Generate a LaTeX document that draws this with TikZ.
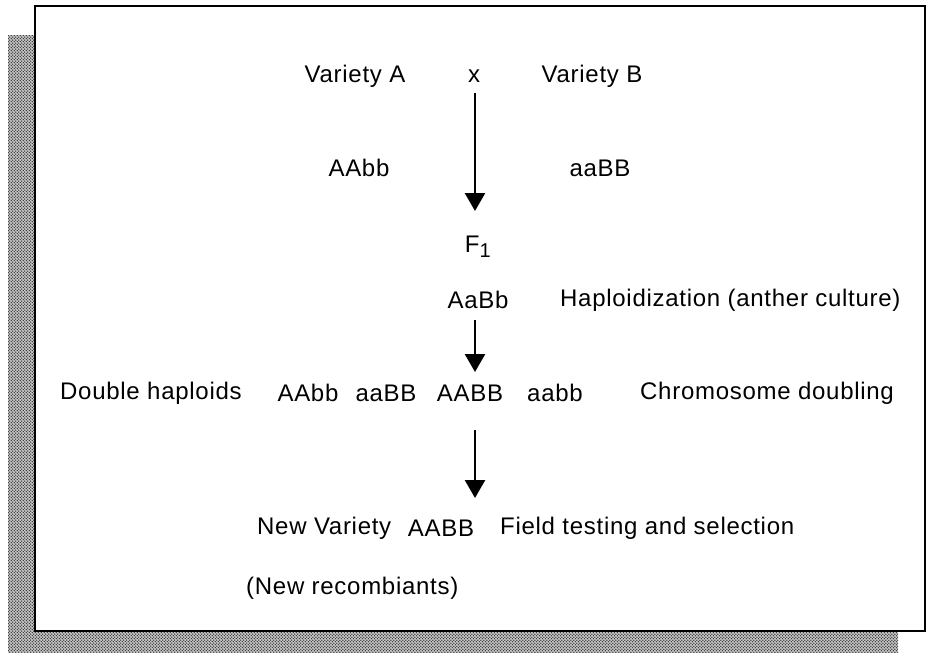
\documentclass[tikz,border=0pt]{standalone}
\usepackage{fontspec}
\setmainfont{Liberation Sans}[LetterSpace=3]
\usetikzlibrary{arrows.meta,patterns}
\pgfdeclarepatternformonly{halftone}{\pgfpoint{-0.5pt}{-0.5pt}}{\pgfpoint{3.5pt}{3.5pt}}{\pgfpoint{3pt}{3pt}}{%
  \pgfpathcircle{\pgfpoint{0.75pt}{0.75pt}}{0.75pt}%
  \pgfpathcircle{\pgfpoint{2.25pt}{2.25pt}}{0.75pt}%
  \pgfusepath{fill}}
\begin{document}
\begin{tikzpicture}[x=1pt,y=-1pt,
  lbl/.style={font=\fontsize{24}{28}\selectfont, inner sep=0pt, anchor=center},
  lblw/.style={lbl, anchor=west},
  flow/.style={line width=2.6pt, -{Triangle[width=20pt,length=18pt]}}]
\useasboundingbox (0,0) rectangle (927,653);
% shadow
\fill[black!20] (8,35) rectangle (898,653);
\fill[pattern=halftone, pattern color=black!80] (8,35) rectangle (898,653);
% frame
\fill[white] (35,6) rectangle (925,631);
\draw[line width=2.6pt] (35,6) rectangle (925,631);
% row 1
\node[lbl] (varA) at (355,76) {Variety A};
\node[lbl] (cross) at (474,76) {x};
\node[lbl] (varB) at (592,76) {Variety B};
\node[lbl] (gA) at (359,168) {AAbb};
\node[lbl] (gB) at (600,168) {aaBB};
\coordinate (a1s) at (475,93);
\coordinate (a1e) at (475,211);
\draw[flow] (a1s) -- (a1e);
% F1
\node[lbl] (f1) at (478,247) {F$_{\mbox{\fontsize{20}{20}\selectfont 1}}$};
\node[lbl] (aabb1) at (478,300) {AaBb};
\node[lblw] (haplo) at (560,300) {Haploidization (anther culture)};
\coordinate (a2s) at (475,320);
\coordinate (a2e) at (475,372);
\draw[flow] (a2s) -- (a2e);
% double haploids row
\node[lblw] (dh) at (60,393) {Double haploids};
\node[lbl] (d1) at (308,393) {AAbb};
\node[lbl] (d2) at (386,393) {aaBB};
\node[lbl] (d3) at (470,393) {AABB};
\node[lbl] (d4) at (555,393) {aabb};
\node[lblw] (chrom) at (640,393) {Chromosome doubling};
\coordinate (a3s) at (475,430);
\coordinate (a3e) at (475,498);
\draw[flow] (a3s) -- (a3e);
% new variety row
\node[lblw] (nv) at (257,528) {New Variety};
\node[lbl] (nvg) at (441,528) {AABB};
\node[lblw] (field) at (500,528) {Field testing and selection};
\node[lblw] (rec) at (246,588) {(New recombiants)};
\end{tikzpicture}
\end{document}
